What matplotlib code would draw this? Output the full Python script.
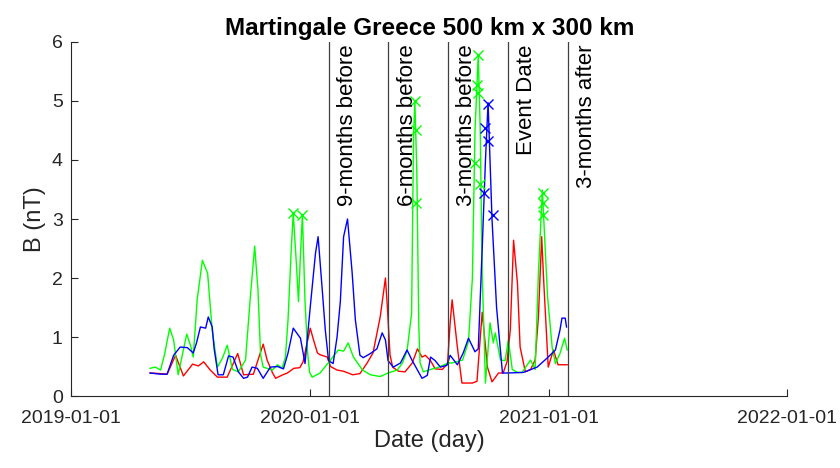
import numpy as np
import matplotlib
matplotlib.use('Agg')
import matplotlib.pyplot as plt
import matplotlib.dates as mdates

plt.rcParams['font.family'] = ['Liberation Sans', 'DejaVu Sans']

# days since 2019-01-01, values in nT
red_days = [121, 137, 147, 160, 172, 186, 195, 203, 213, 224, 239, 255, 264, 279, 294, 300,
            308, 313, 324, 331, 341, 350, 355, 366, 371, 377, 381, 392, 397, 407, 417, 431,
            442, 453, 462, 473, 481, 484, 488, 492, 501, 511, 522, 530, 537, 542, 550, 557,
            568, 576, 580, 583, 591, 598, 614, 621, 629, 637, 644, 654, 661, 667, 672, 677,
            683, 687, 695, 703, 710, 715, 720, 723, 730, 738, 745, 759]
red_vals = [0.39, 0.38, 0.37, 0.69, 0.34, 0.54, 0.51, 0.58, 0.44, 0.32, 0.32, 0.72, 0.36, 0.37, 0.88, 0.61,
            0.40, 0.30, 0.36, 0.39, 0.47, 0.48, 0.58, 1.15, 0.95, 0.73, 0.70, 0.66, 0.50, 0.44, 0.42, 0.36,
            0.38, 0.56, 0.73, 1.34, 2.00, 1.50, 0.70, 0.49, 0.42, 0.41, 0.56, 0.80, 0.66, 0.69, 0.60, 0.46,
            0.45, 0.55, 1.24, 1.63, 0.83, 0.22, 0.22, 0.25, 1.42, 0.49, 0.24, 0.39, 0.39, 0.58, 1.12, 2.64,
            1.90, 0.83, 0.41, 0.45, 0.61, 1.34, 2.70, 1.97, 0.49, 0.78, 0.53, 0.53]

green_days = [121, 129, 137, 143, 151, 157, 164, 177, 183, 187, 193, 201, 209, 216, 224, 232,
              239, 247, 256, 267, 274, 281, 286, 290, 294, 308, 316, 323, 328, 332, 337, 340,
              345, 348, 351, 354, 358, 362, 365, 369, 381, 397, 409, 417, 424, 432, 446, 458,
              473, 485, 499, 507, 514, 521, 524, 526, 529, 532, 534, 539, 550, 560, 569, 577,
              583, 599, 608, 614, 618, 623, 626, 629, 634, 638, 641, 646, 649, 657, 664, 669,
              675, 683, 690, 703, 710, 715, 721, 729, 736, 741, 748, 755, 759]
green_vals = [0.47, 0.49, 0.44, 0.70, 1.15, 0.95, 0.36, 1.05, 0.85, 0.66, 1.63, 2.30, 2.08, 1.12, 0.49, 0.65,
              0.86, 0.45, 0.41, 0.61, 1.63, 2.54, 1.80, 0.70, 0.49, 0.44, 0.53, 0.47, 0.66, 1.29, 2.50, 3.10,
              2.20, 1.60, 2.40, 3.07, 1.60, 0.73, 0.40, 0.32, 0.39, 0.61, 0.78, 0.76, 0.90, 0.66, 0.44, 0.36,
              0.33, 0.39, 0.44, 0.56, 0.76, 1.40, 4.40, 5.00, 3.80, 1.20, 0.56, 0.41, 0.45, 0.48, 0.52, 0.56,
              0.56, 0.61, 0.92, 2.00, 4.50, 5.78, 4.50, 2.08, 0.22, 0.80, 1.24, 0.90, 1.07, 0.61, 0.60, 0.95,
              0.45, 0.40, 0.40, 0.61, 0.45, 2.08, 3.49, 1.68, 0.83, 0.55, 0.72, 0.98, 0.78]

blue_days = [121, 137, 147, 157, 167, 178, 187, 192, 198, 206, 210, 216, 219, 225, 233, 241,
             248, 256, 264, 270, 277, 285, 294, 305, 316, 325, 332, 340, 351, 358, 366, 374,
             378, 384, 389, 394, 401, 407, 412, 417, 423, 430, 435, 442, 447, 458, 468, 476,
             481, 485, 493, 504, 514, 522, 530, 537, 545, 550, 557, 565, 575, 580, 591, 600,
             608, 618, 623, 629, 634, 638, 644, 651, 660, 667, 692, 713, 728, 741, 748, 751,
             756, 758]
blue_vals = [0.39, 0.37, 0.37, 0.69, 0.83, 0.82, 0.73, 0.90, 1.17, 1.15, 1.34, 1.17, 0.80, 0.36, 0.36, 0.68,
             0.66, 0.41, 0.30, 0.32, 0.49, 0.47, 0.30, 0.49, 0.50, 0.46, 0.73, 1.15, 0.98, 0.55, 1.51, 2.42,
             2.70, 1.85, 1.12, 0.60, 0.55, 1.00, 1.60, 2.70, 3.00, 2.10, 1.29, 0.69, 0.65, 0.72, 0.80, 1.07,
             0.95, 0.60, 0.49, 0.56, 0.78, 0.60, 0.44, 0.30, 0.35, 0.66, 0.60, 0.49, 0.52, 0.69, 0.53, 0.73,
             0.98, 0.75, 0.80, 2.50, 4.00, 4.97, 3.00, 1.50, 0.39, 0.39, 0.40, 0.49, 0.64, 0.78, 1.12, 1.32,
             1.32, 1.17]

# anomaly markers
green_mark_days = [340, 354, 526, 527, 528, 623, 621, 623, 618, 626, 722, 722, 722]
green_mark_vals = [3.10, 3.07, 5.00, 4.50, 3.27, 5.78, 5.27, 5.13, 3.95, 3.60, 3.44, 3.27, 3.07]
blue_mark_days = [638, 634, 638, 632, 646]
blue_mark_vals = [4.95, 4.54, 4.32, 3.44, 3.07]

event_lines = ['2020-01-30', '2020-04-30', '2020-07-30', '2020-10-30', '2021-01-30']
event_labels = ['9-months before', '6-months before', '3-months before', 'Event Date', '3-months after']
x_ticks = ['2019-01-01', '2020-01-01', '2021-01-01', '2022-01-01']

start = np.datetime64('2019-01-01')


def to_dates(days):
    return start + np.array(days).astype('timedelta64[D]')


fig = plt.figure(figsize=(8.4, 4.68), dpi=100)
ax = fig.add_axes([0.0845, 0.1538, 0.853, 0.7565])

ax.plot(to_dates(red_days), red_vals, color='red', lw=1)
ax.plot(to_dates(green_days), green_vals, color='#00ff00', lw=1)
ax.plot(to_dates(blue_days), blue_vals, color='blue', lw=1)
ax.plot(to_dates(green_mark_days), green_mark_vals, 'x', color='#00ff00', ms=7, mew=1)
ax.plot(to_dates(blue_mark_days), blue_mark_vals, 'x', color='blue', ms=7, mew=1)

for d, label in zip(event_lines, event_labels):
    xd = np.datetime64(d)
    ax.axvline(xd, color='#404040', lw=0.9)
    ax.text(xd + np.timedelta64(29, 'D'), 5.96, label, rotation=90, ha='center', va='top',
            fontsize=16, color='black')

ax.set_xlim(np.datetime64(x_ticks[0]), np.datetime64(x_ticks[-1]))
ax.set_ylim(0, 6)
ax.set_xticks([np.datetime64(t) for t in x_ticks])
ax.xaxis.set_major_formatter(mdates.DateFormatter('%Y-%m-%d'))
ax.set_yticks(range(0, 7))

for s in ['top', 'right']:
    ax.spines[s].set_visible(False)
for s in ['left', 'bottom']:
    ax.spines[s].set_color('#262626')
    ax.spines[s].set_linewidth(0.8)
ax.tick_params(direction='in', length=5, width=0.8, colors='#262626', labelsize=14, pad=6)
ax.tick_params(axis='x', pad=10)

ax.set_xlabel('Date (day)', fontsize=17, color='#262626', labelpad=2)
ax.set_ylabel('B (nT)', fontsize=17, color='#262626')
ax.set_title('Martingale Greece 500 km x 300 km', fontsize=17.5, fontweight='bold', pad=5)

fig.savefig('out.png', dpi=100)
